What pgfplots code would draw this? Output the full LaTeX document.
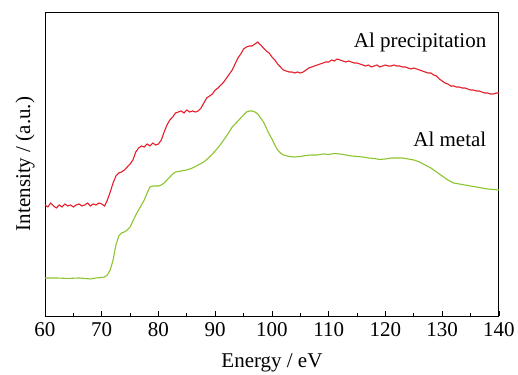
\documentclass[border=0pt]{standalone}
\usepackage{pgfplots}
\pgfplotsset{compat=1.18}
\usepackage{fontspec}
\setmainfont{Liberation Serif}
\definecolor{cred}{RGB}{228,30,42}
\definecolor{cgreen}{RGB}{140,196,48}
\begin{document}
\begin{tikzpicture}
\begin{axis}[
  name=ax,
  scale only axis,
  width=454pt, height=304pt,
  xmin=60, xmax=140, ymin=0, ymax=304,
  xtick={60,70,...,140},
  minor x tick num=1,
  ytick=\empty,
  xtick pos=bottom,
  tick align=inside,
  major tick length=5pt,
  minor tick length=3pt,
  axis line style={line width=0.9pt},
  every tick/.style={black, line width=0.8pt},
  /pgf/number format/assume math mode=true,
  tick label style={font=\fontsize{21}{25}\selectfont},
  xticklabel style={yshift=-3pt},
  label style={font=\fontsize{21}{25}\selectfont},
  xlabel={Energy / eV},
  ylabel={Intensity / (a.u.)},
  xlabel style={at={(axis description cs:0.5,-0.168)}, anchor=base},
  ylabel style={at={(axis description cs:-0.033,0.5)}, anchor=base, rotate=0},
]
\addplot[cred, line width=1.1pt] coordinates {
(60,111)(60.5,109)(61,113)(61.5,110)(62,108)(62.5,111)(63,109)(63.5,112)(64,110)(64.5,111)
(65,109)(65.5,111)(66,112)(66.5,110)(67,111)(67.5,113)(68,110)(68.5,112)(69,111)(69.5,113)
(70,112)(70.5,110)(71,116)(71.5,124)(72,133)(72.5,140)(73,143)(73.5,144)(74,146)(74.5,149)
(75,152)(75.5,156)(76,164)(76.5,168)(77,170)(77.5,169)(78,172)(78.5,170)(79,173)(79.5,171)
(80,172)(80.5,176)(81,184)(81.5,191)(82,196)(82.5,199)(83,203)(83.5,204)(84,205)(84.5,203)
(85,206)(85.5,204)(86,205)(86.5,204)(87,205)(87.5,208)(88,213)(88.5,218)(89,220)(89.5,222)
(90,226)(90.5,228)(91,231)(91.5,234)(92,238)(92.5,242)(93,246)(93.5,252)(94,258)(94.5,262)
(95,267)(95.5,269)(96,270)(96.5,270)(97,272)(97.5,274)(98,271)(98.5,268)(99,265)(99.5,263)
(100,259)(100.5,256)(101,252)(101.5,249)(102,246)(102.5,245)(103,244)(103.5,244)(104,243)(104.5,244)
(105,243)(105.5,244)(106,246)(106.5,248)(107,249)(107.5,250)(108,251)(108.5,252)(109,253)(109.5,254)
(110,254)(110.5,256)(111,255)(111.5,257)(112,256)(112.5,255)(113,254)(113.5,255)(114,254)(114.5,253)
(115,253)(115.5,252)(116,251)(116.5,250)(117,251)(117.5,249)(118,250)(118.5,251)(119,249)(119.5,250)
(120,251)(120.5,250)(121,250)(121.5,251)(122,250)(122.5,250)(123,249)(123.5,249)(124,248)(124.5,247)
(125,248)(125.5,247)(126,246)(126.5,245)(127,244)(127.5,243)(128,243)(128.5,241)(129,240)(129.5,237)
(130,235)(130.5,233)(131,232)(131.5,230)(132,230)(132.5,229)(133,229)(133.5,228)(134,228)(134.5,227)
(135,226)(135.5,226)(136,225)(136.5,225)(137,224)(137.5,223)(138,223)(138.5,222)(139,222)(139.5,223)
(140,223)
};
\addplot[cgreen, line width=1.1pt] coordinates {
(60,38)(62,38)(64,37.5)(66,38)(68,37)(69,38)(70,38.5)(70.5,39)(71,41)(71.5,46)
(72,56)(72.5,71)(73,80)(73.5,83)(74,84)(74.5,86)(75,89)(75.5,95)(76,101)(76.5,106)
(77,111)(77.5,116)(78,123)(78.5,129)(79,130)(79.5,130)(80,130)(80.5,131)(81,133)(81.5,136)
(82,139)(82.5,142)(83,144)(84,145)(85,146)(86,148)(87,151)(88,154)(89,159)(90,165)
(91,172)(92,180)(93,189)(94,195)(95,201)(95.5,204)(96,205)(96.5,205)(97,204)(97.5,202)
(98,198)(98.5,194)(99,188)(99.5,182)(100,177)(100.5,171)(101,166)(101.5,163)(102,161)(103,159.5)
(104,159)(105,159.5)(106,160.5)(107,161)(108,161)(109,162)(110,161.5)(111,162.5)(112,162)(113,161)
(114,160)(115,159.5)(116,159)(117,158)(118,157.5)(119,156.5)(120,157)(121,158)(122,158)(123,158)
(124,157)(125,156)(126,154)(127,151)(128,148)(129,144)(130,140)(131,136)(132,133)(133,132)
(134,131)(135,130)(136,129)(137,128)(138,127)(139,126.5)(140,126)
};
\node[anchor=base east, font=\fontsize{21}{25}\selectfont] at (axis cs:138.4,268) {Al precipitation};
\node[anchor=base east, font=\fontsize{21}{25}\selectfont] at (axis cs:138.4,169) {Al metal};
\end{axis}
\path ([shift={(-45pt,-55pt)}]ax.south west) rectangle ([shift={(19pt,12pt)}]ax.north east);
\end{tikzpicture}
\end{document}
